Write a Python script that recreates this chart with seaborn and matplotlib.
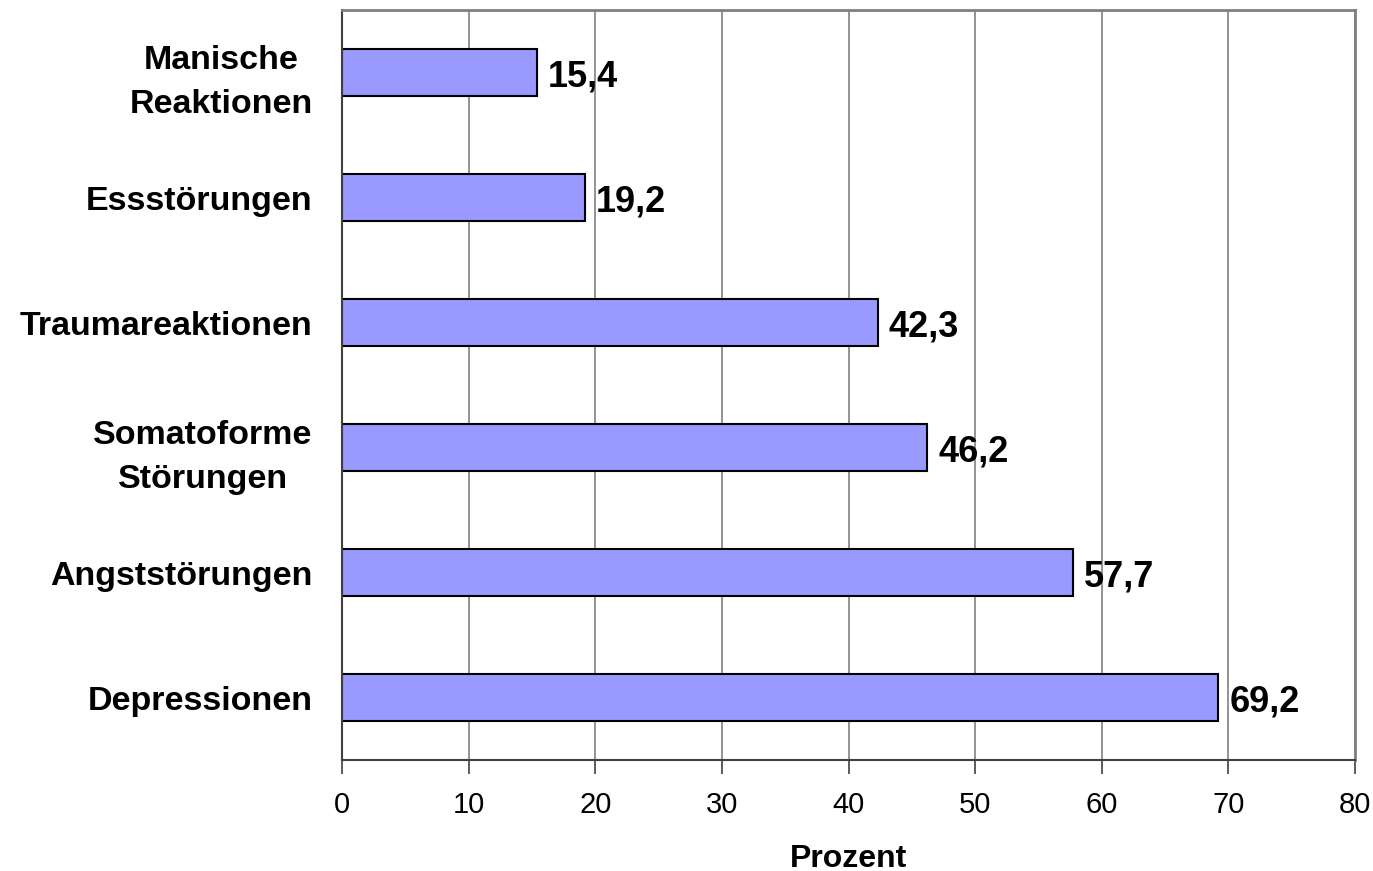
import numpy as np
import pandas as pd
import matplotlib
matplotlib.use("Agg")
import matplotlib.pyplot as plt
import seaborn as sns

sns.set_style("white")
plt.rcParams['font.family'] = ['Liberation Sans', 'DejaVu Sans']
plt.rcParams['text.color'] = 'black'
plt.rcParams['xtick.color'] = 'black'
plt.rcParams['ytick.color'] = 'black'
plt.rcParams['axes.labelcolor'] = 'black'

# Daten (von oben nach unten)
kategorien = ["Manische\nReaktionen", "Essstörungen", "Traumareaktionen",
              "Somatoforme\nStörungen", "Angststörungen", "Depressionen"]
prozent = [15.4, 19.2, 42.3, 46.2, 57.7, 69.2]
werte_text = ["15,4", "19,2", "42,3", "46,2", "57,7", "69,2"]
x_ticks = [0, 10, 20, 30, 40, 50, 60, 70, 80]

df = pd.DataFrame({"kategorie": kategorien, "prozent": prozent})

fig = plt.figure(figsize=(13.73, 8.71), dpi=100)
ax = fig.add_axes([0.249, 0.1274, 0.738, 0.8611])

sns.barplot(data=df, x="prozent", y="kategorie", order=kategorien, orient="h",
            color="#9999FF", saturation=1, width=0.37,
            edgecolor="black", linewidth=1.5, ax=ax)

ax.set_xlim(0, 80)
ax.set_ylim(5.5, -0.5)
ax.set_xticks(x_ticks)
ax.set_xticklabels([str(t) for t in x_ticks], fontsize=21)
ax.xaxis.grid(True, color="#808080", linewidth=1.2)
ax.set_axisbelow(True)

# y-Ticks an den Kategoriegrenzen
ax.set_yticks(np.arange(len(kategorien)))
ax.set_yticklabels(kategorien, fontsize=24.5, fontweight="bold",
                   multialignment="center", linespacing=1.55)
ax.set_yticks(np.arange(-0.5, len(kategorien)), minor=True)
ax.tick_params(axis="y", which="major", length=0, pad=21)
ax.tick_params(axis="y", which="minor", length=12, width=1.2, color="#404040", direction="out")
ax.tick_params(axis="x", which="major", length=10, width=1.2, color="#404040", direction="out", pad=12)
ax.tick_params(left=True, bottom=True)

for side in ["left", "bottom"]:
    ax.spines[side].set_color("#404040")
    ax.spines[side].set_linewidth(1.5)
for side in ["top", "right"]:
    ax.spines[side].set_color("#808080")
    ax.spines[side].set_linewidth(2)

for i, (v, t) in enumerate(zip(prozent, werte_text)):
    ax.annotate(t, (v, i), xytext=(8, 0), textcoords="offset points",
                va="center_baseline", ha="left", fontsize=26, fontweight="bold")

ax.set_ylabel("")
ax.set_xlabel("Prozent", fontsize=23, fontweight="bold", labelpad=18)

fig.savefig("out.png", dpi=100)
